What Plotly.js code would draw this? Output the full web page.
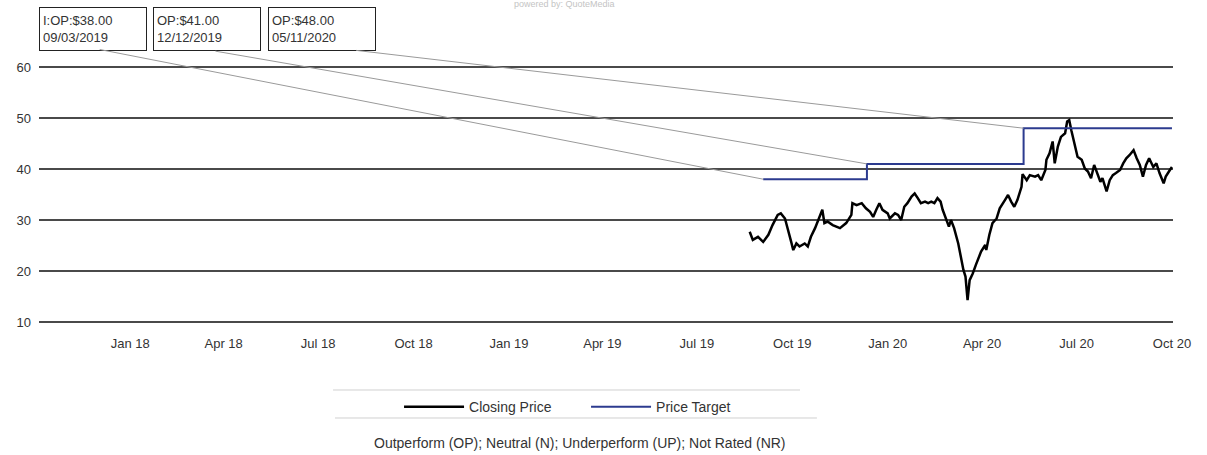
<!DOCTYPE html>
<html>
<head>
<meta charset="utf-8">
<script src="https://cdn.plot.ly/plotly-3.0.1.min.js"></script>
<style>
  html, body { margin: 0; padding: 0; background: #ffffff; }
  #chart { width: 1207px; height: 455px; }
</style>
</head>
<body>
<div id="chart"></div>
<script>
// ---- Data ----
const priceDates = [
  '2019-08-21','2019-08-24','2019-08-29','2019-09-03','2019-09-08','2019-09-12','2019-09-17','2019-09-20','2019-09-24','2019-09-27',
  '2019-09-30','2019-10-02','2019-10-05','2019-10-08','2019-10-13','2019-10-16','2019-10-19','2019-10-23','2019-10-27','2019-10-30',
  '2019-11-01','2019-11-04','2019-11-09','2019-11-16','2019-11-22','2019-11-27','2019-11-28','2019-12-02','2019-12-07','2019-12-11',
  '2019-12-15','2019-12-18','2019-12-21','2019-12-24','2019-12-27','2020-01-01','2020-01-03','2020-01-08','2020-01-11','2020-01-14',
  '2020-01-17','2020-01-20','2020-01-24','2020-01-27','2020-01-30','2020-02-02','2020-02-06','2020-02-09','2020-02-12','2020-02-15',
  '2020-02-18','2020-02-21','2020-02-23','2020-02-27','2020-02-29','2020-03-02','2020-03-05','2020-03-09','2020-03-12','2020-03-14',
  '2020-03-16','2020-03-18','2020-03-20','2020-03-23','2020-03-26','2020-03-28','2020-03-31','2020-04-04','2020-04-05','2020-04-08',
  '2020-04-11','2020-04-15','2020-04-18','2020-04-23','2020-04-26','2020-04-29','2020-05-02','2020-05-05','2020-05-09','2020-05-10',
  '2020-05-14','2020-05-17','2020-05-22','2020-05-25','2020-05-28','2020-06-01','2020-06-02','2020-06-05','2020-06-08','2020-06-10',
  '2020-06-13','2020-06-16','2020-06-20','2020-06-22','2020-06-24','2020-06-26','2020-06-29','2020-07-02','2020-07-06','2020-07-09',
  '2020-07-12','2020-07-15','2020-07-18','2020-07-21','2020-07-24','2020-07-26','2020-07-30','2020-08-02','2020-08-05','2020-08-08',
  '2020-08-12','2020-08-15','2020-08-18','2020-08-21','2020-08-25','2020-08-28','2020-08-31','2020-09-03','2020-09-06','2020-09-09',
  '2020-09-13','2020-09-16','2020-09-19','2020-09-23','2020-09-25','2020-09-29','2020-10-01'
];
const priceValues = [
  27.7,26.1,26.7,25.7,27.1,29.0,31.0,31.3,30.3,27.7,
  25.7,24.1,25.4,24.8,25.4,24.8,26.7,28.4,30.3,32.0,
  29.4,29.7,29.0,28.4,29.4,31.0,33.3,32.9,33.3,32.3,
  31.6,30.6,32.0,33.3,32.0,31.3,30.3,31.3,31.0,30.0,
  32.6,33.3,34.6,35.2,34.3,33.3,33.6,33.3,33.6,33.3,
  34.3,33.6,32.0,29.7,28.7,30.0,28.4,25.4,22.2,20.2,
  18.9,14.3,18.2,19.5,21.2,22.2,23.8,25.1,24.1,27.1,
  29.4,30.3,32.3,33.9,34.9,33.6,32.6,33.9,36.5,39.0,
  37.8,38.8,38.5,38.8,37.8,39.8,41.8,43.1,45.4,41.1,
  44.4,46.3,47.0,49.3,49.6,47.6,45.0,42.4,41.8,40.1,
  39.5,38.2,40.8,39.2,37.5,38.2,35.6,37.8,38.8,39.2,
  39.8,41.1,42.1,42.7,43.7,42.1,40.8,38.5,40.8,42.1,
  40.4,41.1,39.2,37.2,38.5,39.8,40.4
];

const targetDates = ['2019-09-03', '2019-12-12', '2020-05-11'];
const targetValues = [38, 41, 48];
const targetRatings = ['I:OP', 'OP', 'OP'];

const tickDates = ['2018-01-01','2018-04-01','2018-07-01','2018-10-01','2019-01-01','2019-04-01',
                   '2019-07-01','2019-10-01','2020-01-01','2020-04-01','2020-07-01','2020-10-01'];
const tickLabels = ['Jan 18','Apr 18','Jul 18','Oct 18','Jan 19','Apr 19',
                    'Jul 19','Oct 19','Jan 20','Apr 20','Jul 20','Oct 20'];
const yTicks = [10, 20, 30, 40, 50, 60];

const legendNames = ['Closing Price', 'Price Target'];
const footerText = 'Outperform (OP); Neutral (N); Underperform (UP); Not Rated (NR)';
const poweredText = 'powered by: QuoteMedia';

// ---- Layout / style ----
const FONT = '"Liberation Sans", Arial, sans-serif';
const lastDate = priceDates[priceDates.length - 1];

function fmtDate(d) {
  const p = d.split('-');
  return p[1] + '/' + p[2] + '/' + p[0];
}

const traces = [
  {
    x: priceDates, y: priceValues, type: 'scatter', mode: 'lines',
    name: legendNames[0],
    line: { color: '#000000', width: 2.5 }
  },
  {
    x: targetDates.concat([lastDate]),
    y: targetValues.concat([targetValues[targetValues.length - 1]]),
    type: 'scatter', mode: 'lines', name: legendNames[1],
    line: { color: '#2c3b8f', width: 2, shape: 'hv' }
  }
];

// box positions (paper) and leader-line tail offsets (pixels)
const boxX = [0.0, 0.1005, 0.2019];
const leaderTail = [[-665, -130], [-653, -113], [-669, -78]];

const annotations = [];
targetDates.forEach((d, i) => {
  annotations.push({
    xref: 'paper', yref: 'paper', x: boxX[i], y: 1.2296,
    xanchor: 'left', yanchor: 'top',
    text: targetRatings[i] + ':$' + targetValues[i].toFixed(2) + '<br>' + fmtDate(d),
    showarrow: false, align: 'left', valign: 'middle',
    width: 100, height: 36, borderpad: 3,
    bordercolor: '#222', borderwidth: 1,
    font: { family: FONT, size: 13, color: '#333' }
  });
  annotations.push({
    xref: 'x', yref: 'y', x: d, y: targetValues[i],
    text: '', showarrow: true, arrowhead: 0, arrowwidth: 1,
    arrowcolor: '#9a9a9a', standoff: 0,
    ax: leaderTail[i][0], ay: leaderTail[i][1]
  });
});
annotations.push({
  xref: 'paper', yref: 'paper', x: 0.477, y: -0.467,
  xanchor: 'center', yanchor: 'middle', showarrow: false,
  text: footerText, font: { family: FONT, size: 14, color: '#333' }
});
annotations.push({
  xref: 'paper', yref: 'paper', x: 0.4638, y: 1.24,
  xanchor: 'center', yanchor: 'middle', showarrow: false,
  text: poweredText, font: { family: FONT, size: 9, color: '#c4c4c4' }
});

const layout = {
  width: 1207, height: 455,
  margin: { l: 39, r: 34, t: 66, b: 132 },
  paper_bgcolor: '#ffffff', plot_bgcolor: '#ffffff',
  font: { family: FONT, size: 12, color: '#333' },
  showlegend: true,
  legend: {
    orientation: 'h', x: 0.4824, xanchor: 'center', y: -0.327, yanchor: 'middle',
    font: { family: FONT, size: 14, color: '#333' },
    itemwidth: 60, entrywidth: 112, bgcolor: 'rgba(0,0,0,0)'
  },
  xaxis: {
    type: 'date', range: ['2017-10-05', '2020-10-02'],
    showgrid: false, zeroline: false, showline: false, ticks: '',
    tickmode: 'array', tickvals: tickDates, ticktext: tickLabels,
    ticklabelstandoff: 11,
    tickfont: { family: FONT, size: 13, color: '#333' },
    fixedrange: true
  },
  yaxis: {
    range: [9.8, 60.2], tickmode: 'array', tickvals: yTicks,
    showgrid: true, gridcolor: '#4a4a4a', gridwidth: 1.5,
    zeroline: false, showline: false, ticks: '',
    ticklabelstandoff: 7,
    tickfont: { family: FONT, size: 13, color: '#333' },
    fixedrange: true
  },
  shapes: [
    { type: 'line', xref: 'paper', yref: 'paper', x0: 0.2593, x1: 0.6711, y0: -0.2607, y1: -0.2607,
      line: { color: '#d0d0d0', width: 1 } },
    { type: 'line', xref: 'paper', yref: 'paper', x0: 0.261, x1: 0.686, y0: -0.3696, y1: -0.3696,
      line: { color: '#d0d0d0', width: 1 } }
  ],
  annotations: annotations
};

Plotly.newPlot('chart', traces, layout, { displayModeBar: false, staticPlot: true });
</script>
</body>
</html>
